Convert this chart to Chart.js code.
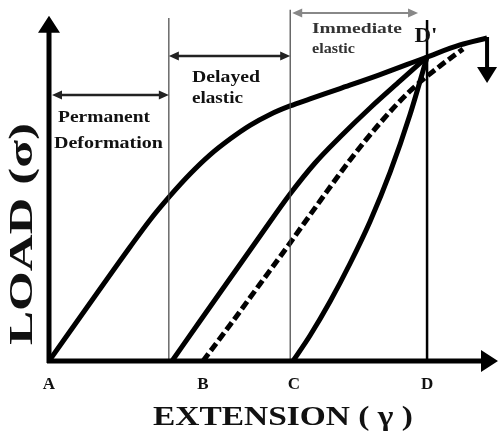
<!DOCTYPE html>
<html>
<head>
<meta charset="utf-8">
<script src="https://cdn.jsdelivr.net/npm/chart.js@4"></script>
<style>
  html, body { margin: 0; padding: 0; background: #fff; }
  #wrap { width: 499px; height: 433px; }
</style>
</head>
<body>
<div id="wrap"><canvas id="creep" width="499" height="433"></canvas></div>
<script>
// extension in % of D, load in % of D'
const loadingX   = [0, 13.49, 21.43, 26.72, 32.01, 37.30, 42.59, 47.88, 53.17, 58.47, 63.76, 69.05, 76.98, 87.57, 100, 108.73, 115.87];
const loadingY   = [0, 23.68, 37.5, 46.4, 54.3, 61.5, 67.8, 73.0, 77.5, 81.1, 83.9, 86.2, 89.6, 94.2, 100, 103.95, 106.25];
const delayedX   = [32.54, 39.95, 47.88, 55.82, 63.76, 70.37, 76.98, 84.92, 92.86, 100];
const delayedY   = [0, 13.16, 27.14, 41.12, 54.93, 65.13, 73.68, 83.22, 92.11, 100];
const dashedX    = [40.74, 47.88, 55.82, 63.76, 71.69, 79.63, 87.57, 95.50, 103.44, 109.52];
const dashedY    = [0, 11.84, 25.33, 38.82, 52.63, 66.12, 78.29, 88.82, 97.04, 102.63];
const immediateX = [64.55, 69.05, 74.34, 79.63, 84.92, 90.21, 95.50, 100];
const immediateY = [0, 8.39, 19.57, 32.07, 45.89, 62.01, 81.09, 100];

const markerX    = [31.7, 63.8, 100];     // vertical guide lines
const markerTop  = [112.8, 115.5, 112.2];
const tickLabels = ['A', 'B', 'C', 'D'];
const tickX      = [0, 40.7, 64.8, 100];

const FONT = '"Liberation Serif", "Times New Roman", Times, serif';

function pts(xs, ys) {
    return xs.map((v, i) => ({ x: v, y: ys[i] }));
}

function curve(xs, ys, dash) {
    return {
        data: pts(xs, ys),
        showLine: true,
        borderColor: '#000',
        borderWidth: 5,
        borderDash: dash || [],
        pointRadius: 0,
        cubicInterpolationMode: 'monotone'
    };
}

function guide(i) {
    return {
        data: [{ x: markerX[i], y: 0 }, { x: markerX[i], y: markerTop[i] }],
        showLine: true,
        borderColor: i === 2 ? '#000' : '#444',
        borderWidth: i === 2 ? 2.5 : 1.2,
        pointRadius: 0,
        tension: 0
    };
}

function stretchText(ctx, str, cx, base, size, width, color) {
    ctx.save();
    ctx.font = 'bold ' + size + 'px ' + FONT;
    ctx.fillStyle = color || '#111';
    ctx.textAlign = 'center';
    ctx.textBaseline = 'alphabetic';
    const w = ctx.measureText(str).width;
    ctx.translate(cx, base);
    if (width) ctx.scale(width / w, 1);
    ctx.fillText(str, 0, 0);
    ctx.restore();
}

function dimArrow(ctx, x1, x2, y, color, lw) {
    ctx.save();
    ctx.strokeStyle = color;
    ctx.fillStyle = color;
    ctx.lineWidth = lw;
    ctx.beginPath();
    ctx.moveTo(x1 + 6, y);
    ctx.lineTo(x2 - 6, y);
    ctx.stroke();
    ctx.beginPath();
    ctx.moveTo(x1, y); ctx.lineTo(x1 + 10, y - 4.5); ctx.lineTo(x1 + 10, y + 4.5); ctx.closePath();
    ctx.moveTo(x2, y); ctx.lineTo(x2 - 10, y - 4.5); ctx.lineTo(x2 - 10, y + 4.5); ctx.closePath();
    ctx.fill();
    ctx.restore();
}

const overlay = {
    id: 'overlay',
    afterDatasetsDraw(chart) {
        const ctx = chart.ctx;
        const sx = chart.scales.x, sy = chart.scales.y;
        const x0 = sx.getPixelForValue(0), y0 = sy.getPixelForValue(0);
        const yTop = sy.getPixelForValue(113.2);
        const xEnd = sx.getPixelForValue(118.5);

        // axes with arrow heads
        ctx.save();
        ctx.strokeStyle = '#000';
        ctx.fillStyle = '#000';
        ctx.lineWidth = 5;
        ctx.beginPath();
        ctx.moveTo(x0, y0 + 2); ctx.lineTo(x0, yTop + 14);
        ctx.moveTo(x0 - 2, y0); ctx.lineTo(xEnd - 14, y0);
        ctx.stroke();
        ctx.beginPath();
        ctx.moveTo(x0 - 11, yTop + 16); ctx.lineTo(x0 + 11, yTop + 16); ctx.lineTo(x0, yTop - 1); ctx.closePath();
        ctx.moveTo(xEnd - 16, y0 - 11); ctx.lineTo(xEnd - 16, y0 + 11); ctx.lineTo(xEnd + 1, y0); ctx.closePath();
        ctx.fill();

        // unloading arrow at the end of the loading curve
        const ax = sx.getPixelForValue(loadingX[loadingX.length - 1]);
        const ay = sy.getPixelForValue(loadingY[loadingY.length - 1]);
        ctx.lineWidth = 4;
        ctx.beginPath();
        ctx.moveTo(ax, ay - 1); ctx.lineTo(ax, ay + 32);
        ctx.stroke();
        ctx.beginPath();
        ctx.moveTo(ax - 10, ay + 29); ctx.lineTo(ax + 10, ay + 29); ctx.lineTo(ax, ay + 45); ctx.closePath();
        ctx.fill();
        ctx.restore();

        // dimension arrows
        const bx = sx.getPixelForValue(markerX[0]);
        const cx = sx.getPixelForValue(markerX[1]);
        const dx = sx.getPixelForValue(markerX[2]);
        dimArrow(ctx, x0 + 3, bx, 95, '#222', 2.5);
        dimArrow(ctx, bx, cx, 56, '#222', 2.5);
        dimArrow(ctx, cx + 2, dx - 9, 13, '#888', 2);

        // region labels
        stretchText(ctx, 'Permanent', 104, 122, 17, 92);
        stretchText(ctx, 'Deformation', 108.5, 148, 17, 109);
        stretchText(ctx, 'Delayed', 226, 82, 16, 68);
        stretchText(ctx, 'elastic', 217.5, 103, 16, 51);
        stretchText(ctx, 'Immediate', 357, 33, 15, 90, '#333');
        stretchText(ctx, 'elastic', 333.5, 53, 15, 43, '#333');
        stretchText(ctx, "D'", 426, 42, 21, 23);

        // point letters on the extension axis
        tickLabels.forEach((t, i) => {
            stretchText(ctx, t, sx.getPixelForValue(tickX[i]), 389, 17);
        });

        // axis titles
        stretchText(ctx, 'EXTENSION ( \u03b3 )', 283, 425, 27, 260);
        ctx.save();
        ctx.translate(32, 234);
        ctx.rotate(-Math.PI / 2);
        stretchText(ctx, 'LOAD (\u03c3)', 0, 0, 34, 222);
        ctx.restore();
    }
};

new Chart(document.getElementById('creep'), {
    type: 'scatter',
    data: {
        datasets: [
            guide(0), guide(1), guide(2),
            curve(loadingX, loadingY),
            curve(delayedX, delayedY),
            curve(dashedX, dashedY, [9, 4]),
            curve(immediateX, immediateY)
        ]
    },
    options: {
        responsive: false,
        animation: false,
        layout: { padding: { left: 49, right: 2, top: 5, bottom: 72 } },
        plugins: {
            legend: { display: false },
            tooltip: { enabled: false }
        },
        scales: {
            x: { type: 'linear', min: 0, max: 118.5, display: false },
            y: { type: 'linear', min: 0, max: 117.1, display: false }
        }
    },
    plugins: [overlay]
});
</script>
</body>
</html>
